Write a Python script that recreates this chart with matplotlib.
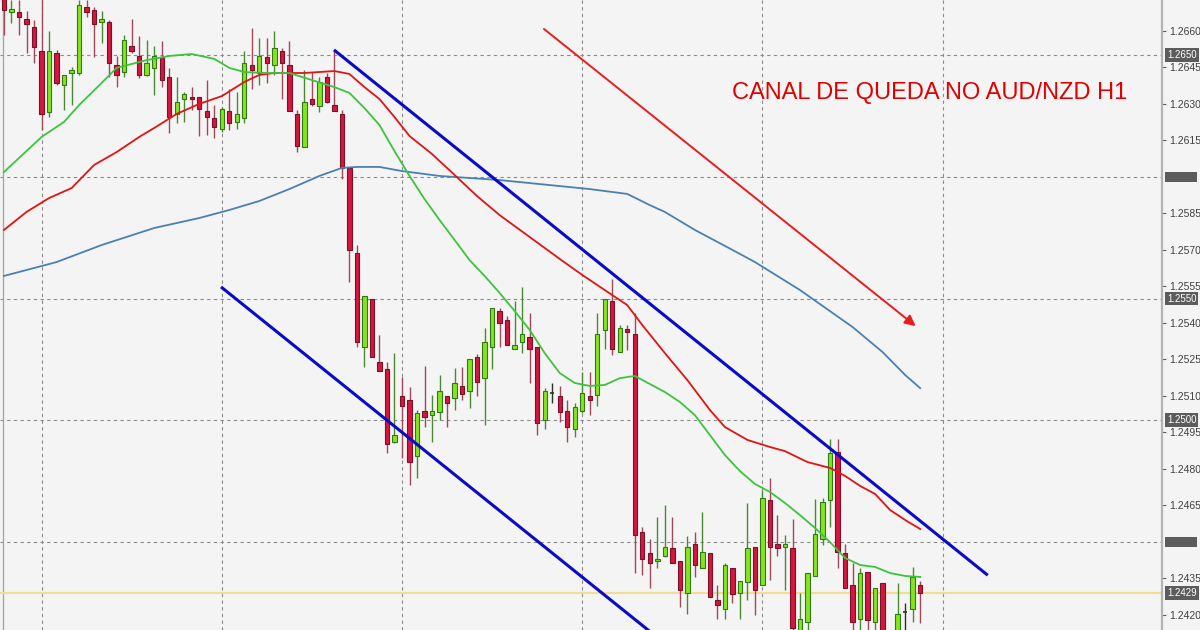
import numpy as np
import matplotlib
matplotlib.use("Agg")
import matplotlib.pyplot as plt
import matplotlib.transforms as mtransforms
from matplotlib.patches import Rectangle

plt.rcParams['font.family'] = ['Liberation Sans', 'DejaVu Sans']

# AUD/NZD H1 candles
opens = [1.26748, 1.26678, 1.26678, 1.26649, 1.26616, 1.26517, 1.26267, 1.26509, 1.26378, 1.26427,
         1.26427, 1.26698, 1.26686, 1.26637, 1.26637, 1.26460, 1.26431, 1.26538, 1.26497, 1.26419,
         1.26448, 1.26493, 1.26411, 1.26259, 1.26320, 1.26328, 1.26328, 1.26271, 1.26242, 1.26197,
         1.26271, 1.26226, 1.26242, 1.26460, 1.26427, 1.26493, 1.26460, 1.26517, 1.26460, 1.26259,
         1.26123, 1.26320, 1.26291, 1.26411, 1.26295, 1.26259, 1.26037, 1.25687, 1.25301, 1.25498,
         1.25239, 1.25210, 1.24910, 1.25099, 1.25083, 1.24853, 1.25038, 1.25021, 1.25034, 1.25099,
         1.25091, 1.25141, 1.25120, 1.25260, 1.25173, 1.25301, 1.25449, 1.25412, 1.25293, 1.25321,
         1.25342, 1.25301, 1.25001, 1.25112, 1.25099, 1.25038, 1.24964, 1.25038, 1.25099, 1.25104,
         1.25371, 1.25490, 1.25280, 1.25375, 1.25354, 1.24541, 1.24454, 1.24421, 1.24442, 1.24475,
         1.24421, 1.24290, 1.24491, 1.24393, 1.24454, 1.24261, 1.24224, 1.24393, 1.24290, 1.24335,
         1.24479, 1.24323, 1.24672, 1.24491, 1.24479, 1.24475, 1.24138, 1.24171, 1.24360, 1.24512,
         1.24672, 1.24869, 1.24454, 1.24323, 1.24183, 1.24376, 1.24171, 1.24331, 1.24060, 1.24130,
         1.24212, 1.24224, 1.24323]
closes = [1.26686, 1.26690, 1.26657, 1.26628, 1.26534, 1.26259, 1.26517, 1.26386, 1.26419, 1.26439,
          1.26706, 1.26678, 1.26628, 1.26649, 1.26468, 1.26419, 1.26563, 1.26517, 1.26419, 1.26468,
          1.26497, 1.26398, 1.26246, 1.26308, 1.26341, 1.26320, 1.26279, 1.26246, 1.26205, 1.26279,
          1.26222, 1.26259, 1.26468, 1.26439, 1.26497, 1.26468, 1.26530, 1.26468, 1.26271, 1.26127,
          1.26308, 1.26300, 1.26390, 1.26308, 1.26271, 1.26037, 1.25700, 1.25321, 1.25510, 1.25260,
          1.25202, 1.24902, 1.24939, 1.25058, 1.24828, 1.25030, 1.25013, 1.25038, 1.25120, 1.25071,
          1.25153, 1.25108, 1.25252, 1.25157, 1.25321, 1.25461, 1.25400, 1.25309, 1.25309, 1.25354,
          1.25293, 1.24988, 1.25120, 1.25112, 1.25034, 1.24972, 1.25054, 1.25112, 1.25083, 1.25354,
          1.25498, 1.25293, 1.25379, 1.25363, 1.24528, 1.24430, 1.24413, 1.24430, 1.24479, 1.24413,
          1.24302, 1.24479, 1.24405, 1.24458, 1.24273, 1.24240, 1.24405, 1.24286, 1.24339, 1.24475,
          1.24302, 1.24680, 1.24479, 1.24475, 1.24491, 1.24146, 1.24183, 1.24372, 1.24532, 1.24664,
          1.24865, 1.24458, 1.24310, 1.24171, 1.24372, 1.24179, 1.24310, 1.24130, 1.24090, 1.24204,
          1.24212, 1.24356, 1.24290]
highs = [1.26789, 1.26727, 1.26727, 1.26682, 1.26645, 1.26748, 1.26600, 1.26522, 1.26419, 1.26452,
         1.26727, 1.26727, 1.26698, 1.26682, 1.26645, 1.26497, 1.26583, 1.26649, 1.26579, 1.26563,
         1.26538, 1.26559, 1.26448, 1.26411, 1.26349, 1.26369, 1.26328, 1.26398, 1.26295, 1.26287,
         1.26361, 1.26349, 1.26517, 1.26612, 1.26571, 1.26571, 1.26600, 1.26530, 1.26559, 1.26275,
         1.26439, 1.26431, 1.26411, 1.26427, 1.26522, 1.26275, 1.26041, 1.25720, 1.25510, 1.25498,
         1.25350, 1.25239, 1.25276, 1.25178, 1.25136, 1.25042, 1.25223, 1.25104, 1.25186, 1.25099,
         1.25215, 1.25219, 1.25252, 1.25272, 1.25379, 1.25461, 1.25461, 1.25428, 1.25490, 1.25547,
         1.25441, 1.25301, 1.25132, 1.25153, 1.25141, 1.25083, 1.25071, 1.25198, 1.25198, 1.25441,
         1.25498, 1.25580, 1.25391, 1.25391, 1.25441, 1.24561, 1.24512, 1.24602, 1.24651, 1.24602,
         1.24421, 1.24524, 1.24541, 1.24623, 1.24454, 1.24323, 1.24413, 1.24393, 1.24339, 1.24660,
         1.24479, 1.24713, 1.24762, 1.24610, 1.24528, 1.24594, 1.24290, 1.24372, 1.24676, 1.24680,
         1.24923, 1.24923, 1.24491, 1.24413, 1.24393, 1.24376, 1.24310, 1.24331, 1.24125, 1.24331,
         1.24249, 1.24397, 1.24339]
lows = [1.26583, 1.26632, 1.26583, 1.26509, 1.26468, 1.26193, 1.26246, 1.26378, 1.26275, 1.26295,
        1.26419, 1.26657, 1.26493, 1.26550, 1.26411, 1.26369, 1.26411, 1.26509, 1.26406, 1.26415,
        1.26337, 1.26369, 1.26180, 1.26222, 1.26226, 1.26275, 1.26168, 1.26172, 1.26160, 1.26185,
        1.26193, 1.26197, 1.26222, 1.26361, 1.26378, 1.26386, 1.26419, 1.26320, 1.26271, 1.26102,
        1.26123, 1.26291, 1.26267, 1.26304, 1.26271, 1.25991, 1.25568, 1.25301, 1.25219, 1.25260,
        1.25202, 1.24865, 1.24906, 1.24845, 1.24734, 1.24762, 1.24972, 1.24910, 1.25001, 1.24972,
        1.25042, 1.25083, 1.25050, 1.25099, 1.24980, 1.25210, 1.25301, 1.25309, 1.25293, 1.25276,
        1.25153, 1.24939, 1.24964, 1.25071, 1.24993, 1.24910, 1.24931, 1.25030, 1.25021, 1.25058,
        1.25293, 1.25268, 1.25280, 1.25289, 1.24372, 1.24364, 1.24310, 1.24393, 1.24438, 1.24413,
        1.24232, 1.24204, 1.24356, 1.24393, 1.24273, 1.24183, 1.24183, 1.24249, 1.24183, 1.24261,
        1.24199, 1.24323, 1.24343, 1.24442, 1.24302, 1.24097, 1.24097, 1.24117, 1.24360, 1.24487,
        1.24561, 1.24393, 1.24310, 1.24117, 1.24117, 1.24117, 1.24117, 1.24097, 1.24030, 1.24097,
        1.24117, 1.24171, 1.24167]

# moving averages (sampled along the lines)
green_idx = [0, 5, 8, 10, 13, 15, 19, 22, 25, 28, 30, 32, 35, 38, 41, 44, 46, 48, 50, 52,
             54, 56, 58, 60, 62, 64, 66, 68, 70, 72, 74, 76, 78, 80, 82, 84, 86, 88, 90, 92,
             94, 96, 98, 100, 102, 104, 106, 108, 110, 112, 114, 116, 118, 120, 122]
green_val = [1.26020, 1.26164, 1.26226, 1.26295, 1.26386, 1.26448, 1.26480, 1.26497, 1.26505, 1.26485,
             1.26448, 1.26431, 1.26427, 1.26427, 1.26398, 1.26369, 1.26345, 1.26283, 1.26213, 1.26106,
             1.26004, 1.25909, 1.25823, 1.25741, 1.25658, 1.25593, 1.25523, 1.25449, 1.25371, 1.25276,
             1.25194, 1.25153, 1.25141, 1.25145, 1.25173, 1.25182, 1.25149, 1.25116, 1.25075, 1.25021,
             1.24939, 1.24857, 1.24791, 1.24738, 1.24705, 1.24660, 1.24610, 1.24557, 1.24499, 1.24434,
             1.24405, 1.24397, 1.24372, 1.24360, 1.24356]
red_idx = [0, 3, 6, 9, 12, 15, 18, 20, 23, 26, 29, 32, 34, 36, 40, 44, 46, 48, 50, 52,
           54, 57, 60, 63, 66, 70, 74, 77, 80, 83, 85, 88, 91, 94, 96, 99, 102, 104, 107, 110,
           112, 114, 116, 118, 120, 122]
red_val = [1.25782, 1.25856, 1.25913, 1.25954, 1.26049, 1.26102, 1.26164, 1.26201, 1.26259, 1.26300,
           1.26332, 1.26390, 1.26419, 1.26427, 1.26427, 1.26435, 1.26423, 1.26369, 1.26320, 1.26246,
           1.26168, 1.26094, 1.26008, 1.25921, 1.25843, 1.25753, 1.25663, 1.25597, 1.25535, 1.25473,
           1.25391, 1.25276, 1.25165, 1.25042, 1.24972, 1.24919, 1.24890, 1.24873, 1.24828, 1.24804,
           1.24771, 1.24730, 1.24697, 1.24631, 1.24590, 1.24553]
blue_idx = [0, 7, 13, 20, 26, 30, 34, 38, 42, 45, 47, 50, 53, 58, 66, 78, 83, 86, 88, 92,
            97, 100, 106, 113, 117, 120, 122]
blue_val = [1.25593, 1.25650, 1.25720, 1.25790, 1.25831, 1.25864, 1.25901, 1.25950, 1.26004, 1.26037,
            1.26041, 1.26041, 1.26024, 1.26004, 1.25987, 1.25950, 1.25930, 1.25884, 1.25856, 1.25782,
            1.25700, 1.25650, 1.25535, 1.25383, 1.25280, 1.25186, 1.25132]

# drawn objects: channel lines and arrow (bar index, price)
chan_top = [(43.94, 1.26522), (131.0, 1.24363)]
chan_bot = [(28.9, 1.25548), (95.0, 1.23909)]
arrow_pts = [(71.9, 1.26608), (121.4, 1.25387)]

tick_levels = [1.2420, 1.2435, 1.2465, 1.2480, 1.2495, 1.2510, 1.2525, 1.2540,
               1.2555, 1.2570, 1.2585, 1.2615, 1.2630, 1.2645, 1.2660]
grid_levels = [1.2650, 1.2600, 1.2550, 1.2500, 1.2450]
label_levels = [1.2650, 1.2550, 1.2500, 1.2429]
blank_levels = [1.2600, 1.2450]
session_idx = [5, 29, 53, 77, 101, 125]
last_price = 1.2429
title = 'CANAL DE QUEDA NO AUD/NZD H1'

bg = '#f4f4f4'
fig = plt.figure(figsize=(12, 6.3), dpi=100, facecolor=bg)
ax = fig.add_axes([0, 0, 1162 / 1200, 1])
ax.set_facecolor(bg)

# grid
for lv in grid_levels:
    ax.axhline(lv, color='#8a8a8a', lw=0.8, ls=(0, (3, 3)), zorder=1)
for s in session_idx:
    ax.axvline(s, color='#8a8a8a', lw=0.8, ls=(0, (3, 3)), zorder=1)
ax.axvline(-0.13, color='#a8a8a8', lw=1, zorder=1)
ax.axhline(last_price, color='#f0de94', lw=1.6, zorder=1)

# candles
o = np.array(opens)
c = np.array(closes)
h = np.array(highs)
l = np.array(lows)
x = np.arange(len(o))
up = c > o
dn = c < o
eq = c == o
ax.vlines(x[up], l[up], h[up], color='#4a8a35', lw=1, zorder=2)
ax.vlines(x[dn], l[dn], h[dn], color='#9c4a5c', lw=1, zorder=2)
ax.vlines(x[eq], l[eq], h[eq], color='#303030', lw=1, zorder=2)
ax.bar(x[up], (c - o)[up], bottom=o[up], width=0.58, color='#86e31f',
       edgecolor='#2f7a12', lw=0.8, zorder=3)
ax.bar(x[dn], (o - c)[dn], bottom=c[dn], width=0.58, color='#d3173f',
       edgecolor='#7c1028', lw=0.8, zorder=3)
ax.hlines(o[eq], x[eq] - 0.3, x[eq] + 0.3, color='#303030', lw=1.2, zorder=3)

# moving averages
ax.plot(blue_idx, blue_val, color='#4a80b2', lw=1.3, zorder=4)
ax.plot(red_idx, red_val, color='#e01414', lw=1.3, zorder=4)
ax.plot(green_idx, green_val, color='#3cc43c', lw=1.3, zorder=4)

# channel + arrow
ax.plot(*zip(*chan_top), color='#0a0ac8', lw=2.2, zorder=5, solid_capstyle='butt')
ax.plot(*zip(*chan_bot), color='#0a0ac8', lw=2.2, zorder=5, solid_capstyle='butt')
ax.annotate('', xy=arrow_pts[1], xytext=arrow_pts[0],
            arrowprops=dict(arrowstyle='-|>', color='#ec1c1c', lw=1.4,
                            mutation_scale=16, shrinkA=0, shrinkB=0), zorder=5)

ax.text(0.63, 0.852, title, transform=ax.transAxes, color='#e00000',
        fontsize=17, ha='left', va='center', zorder=6)

ax.set_xlim(-0.53, 154.2)
ax.set_ylim(1.24138, 1.26727)

# price scale on the right
ax.set_xticks([])
ax.yaxis.tick_right()
ax.set_yticks(tick_levels)
ax.set_yticklabels([f'{v:.4f}' for v in tick_levels])
ax.tick_params(axis='y', length=3, width=0.8, color='#606060', pad=2,
               labelsize=7.5, labelcolor='#404040')
for sp in ['top', 'bottom', 'left']:
    ax.spines[sp].set_visible(False)
ax.spines['right'].set_color('#b4b4b4')
ax.spines['right'].set_linewidth(1.6)

trans = mtransforms.blended_transform_factory(ax.transAxes, ax.transData)
for lv in label_levels:
    ax.text(1.0045, lv, f'{lv:.4f}', transform=trans, ha='left', va='center',
            fontsize=7, color='white', clip_on=False,
            bbox=dict(boxstyle='square,pad=0.18', fc='#5c5c5c', ec='none'))
for lv in blank_levels:
    ax.add_patch(Rectangle((1.0026, lv - 0.00021), 0.0275, 0.00042, transform=trans,
                           fc='#5c5c5c', ec='none', clip_on=False))

fig.savefig('out.png', dpi=100, facecolor=bg)
